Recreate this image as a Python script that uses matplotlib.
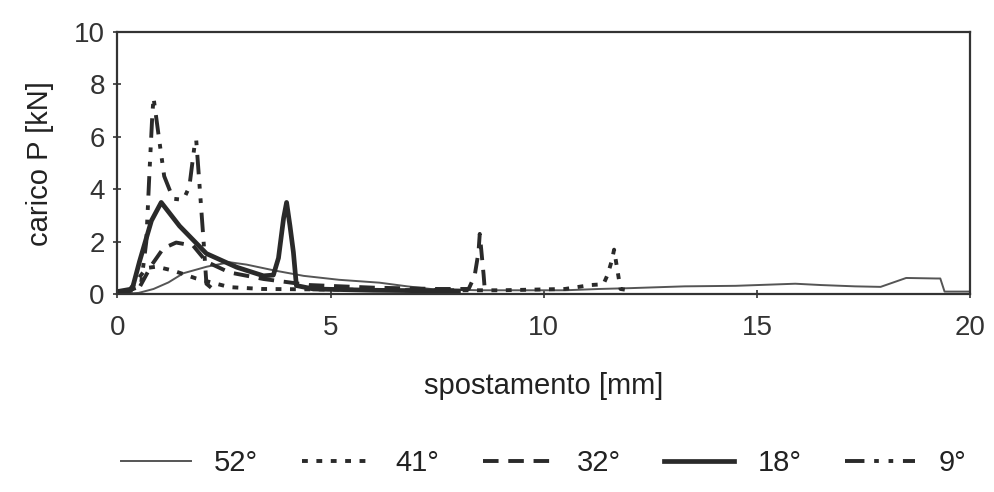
import matplotlib.pyplot as plt

plt.rcParams['font.family'] = ['Liberation Sans', 'DejaVu Sans']

# 52 deg - thin solid
x52 = [0.0, 0.5, 0.85, 1.2, 1.55, 2.1, 2.63, 3.03, 3.7, 4.37, 5.2, 6.15, 6.8, 7.4, 8.5, 9.5, 10.5,
       11.3, 12.0, 13.3, 14.5, 15.9, 16.5, 17.3, 17.9, 18.2, 18.5, 19.2, 19.3, 19.4, 19.7, 20.0]
y52 = [0.0, 0.05, 0.2, 0.45, 0.8, 1.05, 1.22, 1.13, 0.9, 0.7, 0.55, 0.44, 0.3, 0.19, 0.15, 0.15, 0.15,
       0.2, 0.23, 0.3, 0.32, 0.4, 0.35, 0.3, 0.28, 0.45, 0.62, 0.6, 0.6, 0.1, 0.1, 0.1]

# 41 deg - dotted
x41 = [0.0, 0.3, 0.5, 0.68, 0.92, 1.31, 1.85, 2.63, 3.4, 5.0, 7.0, 9.0, 10.5, 11.1, 11.4,
       11.5, 11.6, 11.65, 11.72, 11.8, 12.0]
y41 = [0.0, 0.2, 0.6, 1.0, 1.05, 0.9, 0.6, 0.27, 0.2, 0.18, 0.15, 0.15, 0.2, 0.35, 0.38,
       0.75, 1.3, 1.7, 1.0, 0.2, 0.15]

# 32 deg - dashed
x32 = [0.0, 0.5, 0.8, 1.08, 1.38, 1.78, 2.09, 2.63, 3.43, 4.5, 6.0, 7.5, 8.24, 8.38, 8.47, 8.5,
       8.59, 8.62, 8.7]
y32 = [0.0, 0.2, 1.1, 1.75, 1.97, 1.85, 1.24, 0.83, 0.58, 0.35, 0.25, 0.2, 0.2, 0.7, 1.6, 2.3,
       0.75, 0.13, 0.1]

# 18 deg - thick solid
x18 = [0.0, 0.35, 0.52, 0.8, 1.03, 1.46, 2.09, 2.8, 3.43, 3.66, 3.78, 3.9, 3.97, 4.05, 4.13,
       4.2, 4.6, 6.0, 8.0]
y18 = [0.1, 0.2, 1.24, 2.8, 3.5, 2.6, 1.55, 1.03, 0.7, 0.73, 1.38, 2.9, 3.5, 2.6, 1.6,
       0.33, 0.2, 0.15, 0.12]

# 9 deg - dash dot dot
x9 = [0.0, 0.55, 0.68, 0.75, 0.82, 0.85, 0.99, 1.1, 1.31, 1.55, 1.69, 1.81, 1.85, 1.97, 2.02,
      2.09, 2.2]
y9 = [0.0, 0.3, 2.0, 4.5, 6.8, 7.5, 5.8, 4.5, 3.64, 3.6, 4.1, 5.65, 5.9, 3.23, 2.1, 0.4, 0.25]

labels = ['52°', '41°', '32°', '18°', '9°']

fig = plt.figure(figsize=(9.94, 4.92), dpi=100)
ax = fig.add_axes([0.118, 0.402, 0.858, 0.533])

ink = '#2a2a2a'
ax.plot(x52, y52, color='#555555', lw=1.4, label=labels[0])
ax.plot(x41, y41, color=ink, lw=2.8, ls=(0, (1.5, 2.2)), label=labels[1])
ax.plot(x32, y32, color=ink, lw=2.8, ls=(0, (4, 2.5)), label=labels[2])
ax.plot(x18, y18, color=ink, lw=3.4, label=labels[3])
ax.plot(x9, y9, color=ink, lw=2.8, ls=(0, (5, 2.5, 1.2, 2.5, 1.2, 2.5)), label=labels[4])

ax.set_xlim(0, 20)
ax.set_ylim(0, 10)
ax.set_xticks([0, 5, 10, 15, 20])
ax.set_yticks([0, 2, 4, 6, 8, 10])
ax.tick_params(direction='inout', length=6, width=1.2, labelsize=20, colors='#333333', pad=12)
ax.tick_params(axis='y', pad=6)
for s in ax.spines.values():
    s.set_linewidth(1.6)
    s.set_color('#333333')

ax.set_xlabel('spostamento [mm]', fontsize=21, color='#222222', labelpad=22)
ax.set_ylabel('carico P [kN]', fontsize=21, color='#222222', labelpad=14)

fig.legend(loc='center', bbox_to_anchor=(0.547, 0.058), ncol=5, frameon=False, fontsize=21,
           handlelength=2.4, columnspacing=1.5, handletextpad=0.8, labelcolor='#222222')

fig.savefig('out.png', dpi=100, facecolor='white')
